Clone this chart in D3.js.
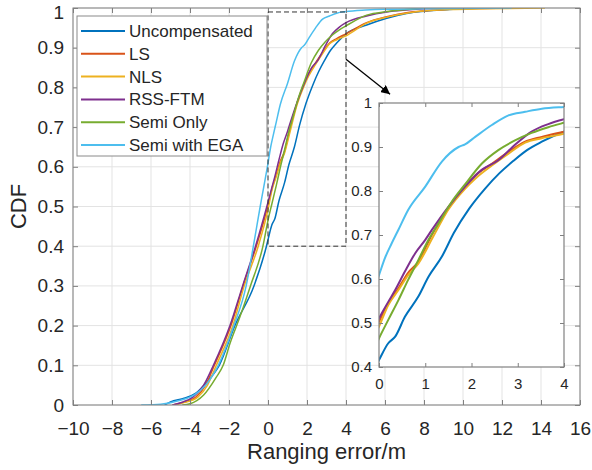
<!DOCTYPE html>
<html>
<head>
<meta charset="utf-8">
<title>Ranging error CDF</title>
<script src="https://cdnjs.cloudflare.com/ajax/libs/d3/7.8.5/d3.min.js"></script>
<style>
	body { margin: 0; background: #fff; }
	svg { font-family: "Liberation Sans", Arial, Helvetica, sans-serif; }
</style>
</head>
<body>
<svg id="chart" width="592" height="470"></svg>
<script>

	// series names and colours (MATLAB default order)
	var names = ["Uncompensated", "LS", "NLS", "RSS-FTM", "Semi Only", "Semi with EGA"];
	var colors = ["#0072BD", "#D95319", "#EDB120", "#7E2F8E", "#77AC30", "#4DBEEE"];

	// [ranging error (m), CDF]
	var uncompensated = [[-5.3,0],[-5.0,0.008],[-4.3,0.017],[-3.7,0.03],[-3.1,0.06],[-2.5,0.1],[-1.7,0.2],[-0.72,0.3],[-0.08,0.4],
		[0,0.416],[0.2,0.454],[0.35,0.469],[0.56,0.514],[0.85,0.56],[1.07,0.605],[1.36,0.651],[1.62,0.705],[1.95,0.76],[2.29,0.805],
		[2.6,0.84],[2.9,0.868],[3.2,0.893],[3.52,0.912],[4,0.935],[5.06,0.957],[6.09,0.974],[7.1,0.986],[8.1,0.992],[9.3,0.996],[10.5,1]];
	var ls = [[-4.9,0],[-4.4,0.006],[-3.7,0.02],[-3.2,0.05],[-2.75,0.1],[-1.9,0.2],[-1.28,0.3],[-0.6,0.4],
		[0,0.503],[0.2,0.545],[0.42,0.579],[0.63,0.614],[0.85,0.639],[1.14,0.7],[1.5,0.762],[1.86,0.81],[2.08,0.835],[2.44,0.862],
		[2.8,0.889],[3.16,0.912],[3.52,0.923],[4,0.935],[5.06,0.963],[6.09,0.978],[7.1,0.988],[8.1,0.993],[9.3,0.997],[11,0.999],[13,1]];
	var nls = [[-4.8,0],[-4.3,0.006],[-3.6,0.02],[-3.1,0.05],[-2.65,0.1],[-1.8,0.2],[-1.22,0.3],[-0.5,0.4],
		[0,0.492],[0.2,0.541],[0.42,0.575],[0.63,0.609],[0.85,0.635],[1.17,0.696],[1.5,0.758],[1.86,0.805],[2.08,0.828],[2.44,0.858],
		[2.8,0.885],[3.16,0.91],[3.52,0.92],[4,0.93],[5.06,0.962],[6.09,0.977],[7.1,0.987],[8.1,0.993],[9.3,0.996],[11,0.998],[14.2,1]];
	var rssFtm = [[-4.9,0],[-4.4,0.007],[-3.85,0.02],[-3.3,0.05],[-2.8,0.1],[-1.95,0.2],[-1.3,0.3],[-0.64,0.4],
		[0,0.511],[0.2,0.548],[0.35,0.575],[0.56,0.617],[0.78,0.658],[1,0.689],[1.14,0.711],[1.5,0.764],[1.86,0.81],[2.22,0.848],
		[2.58,0.87],[2.94,0.905],[3.3,0.935],[3.66,0.952],[4,0.963],[5.06,0.98],[6.09,0.99],[7.1,0.995],[8.8,1]];
	var semiOnly = [[-4.4,0],[-4.0,0.003],[-3.3,0.025],[-2.65,0.07],[-2.3,0.1],[-1.95,0.155],[-1.44,0.222],[-0.9,0.3],[-0.26,0.4],
		[0,0.465],[0.2,0.507],[0.42,0.552],[0.63,0.598],[0.85,0.643],[1.07,0.689],[1.28,0.725],[1.57,0.775],[1.86,0.815],[2.22,0.862],
		[2.58,0.893],[2.94,0.915],[3.3,0.932],[3.66,0.945],[4,0.955],[5.06,0.982],[6.09,0.991],[7.1,0.996],[8,1]];
	var semiEga = [[-6.5,0],[-5.5,0.002],[-4.5,0.012],[-3.8,0.025],[-3.2,0.05],[-2.55,0.1],[-1.75,0.2],[-1.12,0.3],[-0.75,0.4],[-0.4,0.5],
		[0,0.609],[0.13,0.648],[0.27,0.68],[0.42,0.712],[0.63,0.757],[1,0.81],[1.36,0.867],[1.72,0.9],[1.86,0.906],[2.08,0.923],
		[2.44,0.95],[2.8,0.972],[3.16,0.98],[3.52,0.987],[4,0.991],[5,0.995],[5.9,0.997],[8,0.998],[12.5,1]];
	var series = [uncompensated, ls, nls, rssFtm, semiOnly, semiEga];

	// ticks
	var xTicks = [-10,-8,-6,-4,-2,0,2,4,6,8,10,12,14,16];
	var yTicks = [0,0.1,0.2,0.3,0.4,0.5,0.6,0.7,0.8,0.9,1];
	var insetXTicks = [0,1,2,3,4];
	var insetYTicks = [0.4,0.5,0.6,0.7,0.8,0.9,1];

	// zoom window and arrow (data coords of main axes)
	var zoomBox = {x0: 0, x1: 4, y0: 0.4, y1: 0.99};
	var arrowFrom = [4, 0.871], arrowTo = [6.26, 0.783];

	var svg = d3.select("#chart");
	var axisColor = "#808080", textColor = "#262626";

	var x = d3.scaleLinear().domain([-10, 16]).range([73, 580]);
	var y = d3.scaleLinear().domain([0, 1]).range([405, 8]);
	var xi = d3.scaleLinear().domain([0, 4]).range([379, 564]);
	var yi = d3.scaleLinear().domain([0.4, 1]).range([367, 103]);

	var defs = svg.append("defs");
	defs.append("clipPath").attr("id", "clipMain").append("rect")
		.attr("x", 73).attr("y", 8).attr("width", 507).attr("height", 397);
	defs.append("clipPath").attr("id", "clipInset").append("rect")
		.attr("x", 379).attr("y", 103).attr("width", 185).attr("height", 264);
	defs.append("marker").attr("id", "head")
		.attr("viewBox", "0 0 10 10").attr("refX", 10).attr("refY", 5)
		.attr("markerWidth", 9).attr("markerHeight", 9).attr("markerUnits", "userSpaceOnUse")
		.attr("orient", "auto")
		.append("path").attr("d", "M0,0L10,5L0,10z").attr("fill", "#000");

	// grid
	var grid = svg.append("g").attr("stroke", "#e3e3e3").attr("stroke-width", 1);
	xTicks.forEach(function(t) {
		grid.append("line").attr("x1", x(t)).attr("x2", x(t)).attr("y1", y(0)).attr("y2", y(1));
	});
	yTicks.forEach(function(t) {
		grid.append("line").attr("x1", x(-10)).attr("x2", x(16)).attr("y1", y(t)).attr("y2", y(t));
	});

	// curves
	var line = d3.line()
		.x(function(d) { return x(d[0]); })
		.y(function(d) { return y(d[1]); })
		.curve(d3.curveMonotoneX);

	svg.append("g").attr("clip-path", "url(#clipMain)")
		.selectAll("path").data(series).enter().append("path")
		.attr("d", line)
		.attr("fill", "none")
		.attr("stroke", function(d, i) { return colors[i]; })
		.attr("stroke-width", 1.5)
		.attr("stroke-linejoin", "round");

	// axes (ticks inside, box on)
	function styleAxis(g) {
		g.select(".domain").remove();
		g.selectAll(".tick line").attr("stroke", axisColor);
		g.selectAll(".tick text").attr("fill", textColor).attr("font-size", 19);
	}
	svg.append("g").attr("transform", "translate(0,405)")
		.call(d3.axisBottom(x).tickValues(xTicks).tickSize(-5).tickPadding(16.5).tickFormat(d3.format("d")))
		.call(styleAxis);
	svg.append("g").attr("transform", "translate(73,0)")
		.call(d3.axisLeft(y).tickValues(yTicks).tickSize(-5).tickPadding(9).tickFormat(function(d) { return d3.format("~g")(d); }))
		.call(styleAxis)
		.selectAll(".tick text").filter(function(d) { return d === 1; }).attr("y", 4);
	svg.append("g").attr("transform", "translate(0,8)")
		.call(d3.axisTop(x).tickValues(xTicks).tickSize(-5).tickFormat(""))
		.call(styleAxis);
	svg.append("g").attr("transform", "translate(580,0)")
		.call(d3.axisRight(y).tickValues(yTicks).tickSize(-5).tickFormat(""))
		.call(styleAxis);
	svg.append("rect").attr("x", 73).attr("y", 8).attr("width", 507).attr("height", 397)
		.attr("fill", "none").attr("stroke", axisColor).attr("stroke-width", 1);

	svg.append("text").attr("x", 326.5).attr("y", 459).attr("text-anchor", "middle")
		.attr("font-size", 22).attr("fill", textColor).text("Ranging error/m");
	svg.append("text").attr("transform", "translate(26,206.5) rotate(-90)").attr("text-anchor", "middle")
		.attr("font-size", 22).attr("fill", textColor).text("CDF");

	// zoom window + arrow
	svg.append("rect")
		.attr("x", x(zoomBox.x0)).attr("y", y(zoomBox.y1))
		.attr("width", x(zoomBox.x1) - x(zoomBox.x0)).attr("height", y(zoomBox.y0) - y(zoomBox.y1))
		.attr("fill", "none").attr("stroke", "#333").attr("stroke-width", 1).attr("stroke-dasharray", "5,3");
	svg.append("line")
		.attr("x1", x(arrowFrom[0])).attr("y1", y(arrowFrom[1]))
		.attr("x2", x(arrowTo[0])).attr("y2", y(arrowTo[1]))
		.attr("stroke", "#000").attr("stroke-width", 1.3).attr("marker-end", "url(#head)");

	// legend
	var legend = svg.append("g");
	legend.append("rect").attr("x", 77).attr("y", 16).attr("width", 190).attr("height", 140)
		.attr("fill", "#fff").attr("stroke", "#8a8a8a").attr("stroke-width", 1);
	names.forEach(function(n, i) {
		var ly = 31 + i * 22.8;
		legend.append("line").attr("x1", 81).attr("x2", 125).attr("y1", ly).attr("y2", ly)
			.attr("stroke", colors[i]).attr("stroke-width", 2);
		legend.append("text").attr("x", 129).attr("y", ly).attr("dy", "0.35em")
			.attr("font-size", 17).attr("fill", textColor).text(n);
	});

	// inset
	var inset = svg.append("g");
	inset.append("rect").attr("x", 379).attr("y", 103).attr("width", 185).attr("height", 264).attr("fill", "#fff");
	var lineInset = d3.line()
		.x(function(d) { return xi(d[0]); })
		.y(function(d) { return yi(d[1]); })
		.curve(d3.curveMonotoneX);
	inset.append("g").attr("clip-path", "url(#clipInset)")
		.selectAll("path").data(series).enter().append("path")
		.attr("d", lineInset)
		.attr("fill", "none")
		.attr("stroke", function(d, i) { return colors[i]; })
		.attr("stroke-width", 2)
		.attr("stroke-linejoin", "round");

	function styleInset(g) {
		g.select(".domain").remove();
		g.selectAll(".tick line").attr("stroke", axisColor);
		g.selectAll(".tick text").attr("fill", textColor).attr("font-size", 15);
	}
	inset.append("g").attr("transform", "translate(0,367)")
		.call(d3.axisBottom(xi).tickValues(insetXTicks).tickSize(-4).tickPadding(11).tickFormat(d3.format("d")))
		.call(styleInset);
	inset.append("g").attr("transform", "translate(379,0)")
		.call(d3.axisLeft(yi).tickValues(insetYTicks).tickSize(-4).tickPadding(7).tickFormat(function(d) { return d3.format("~g")(d); }))
		.call(styleInset);
	inset.append("g").attr("transform", "translate(0,103)")
		.call(d3.axisTop(xi).tickValues(insetXTicks).tickSize(-4).tickFormat(""))
		.call(styleInset);
	inset.append("g").attr("transform", "translate(564,0)")
		.call(d3.axisRight(yi).tickValues(insetYTicks).tickSize(-4).tickFormat(""))
		.call(styleInset);
	inset.append("rect").attr("x", 379).attr("y", 103).attr("width", 185).attr("height", 264)
		.attr("fill", "none").attr("stroke", axisColor).attr("stroke-width", 1.2);

</script>
</body>
</html>
